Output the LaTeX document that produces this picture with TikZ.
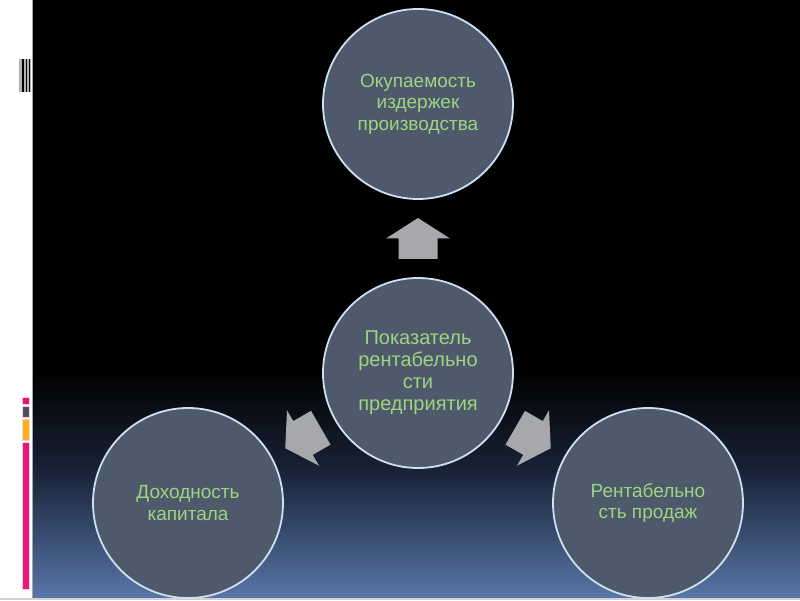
\documentclass[tikz,border=0pt]{standalone}
\usepackage{fontspec}
\setmainfont{Liberation Sans}
\usetikzlibrary{positioning,calc}
\definecolor{slidefill}{RGB}{78,90,107}
\definecolor{ringline}{RGB}{205,225,242}
\definecolor{labelgreen}{RGB}{158,212,128}
\definecolor{arrowgray}{RGB}{166,168,171}
\definecolor{navymid}{RGB}{24,34,54}
\definecolor{navylow}{RGB}{88,118,168}
\definecolor{barpink}{RGB}{228,22,122}
\definecolor{barslate}{RGB}{72,82,100}
\definecolor{barorange}{RGB}{252,180,20}
\tikzstyle{ring}=[circle,draw=ringline,line width=1.8pt,fill=slidefill,text=labelgreen,align=center,minimum size=190pt,inner sep=0pt,font=\fontsize{19}{21.5}\selectfont]
\tikzstyle{blk}=[fill=arrowgray]
\tikzstyle{tab}=[draw=white!80!barpink,line width=0.6pt]
% block arrow: centre, angle
\newcommand{\radarrow}[2]{\fill[blk,shift={(#1)},rotate=#2] (20.5,0) -- (0,32) -- (0,19.5) -- (-20.5,19.5) -- (-20.5,-19.5) -- (0,-19.5) -- (0,-32) -- cycle;}

\begin{document}
\begin{tikzpicture}[x=1pt,y=1pt]
\useasboundingbox (0,0) rectangle (800,600);
% slide background
\fill[white] (0,0) rectangle (800,600);
\fill[black] (33,230) rectangle (800,600);
\shade[top color=black,bottom color=navymid] (33,130) rectangle (800,230.5);
\shade[top color=navymid,bottom color=navylow] (33,2) rectangle (800,130.5);
\draw[gray!70,line width=1pt] (32.5,2) -- (32.5,600);
\draw[gray!35,line width=2pt] (0,1) -- (800,1);
% left decorations
\fill[gray!60] (19,508) rectangle (31,541);
\foreach \xs in {22,25.5,28.5} \fill[black] (\xs,508) rectangle (\xs+1.5,541);
\fill[barpink,tab] (22,196) rectangle (29,203);
\fill[barslate,tab] (22,183) rectangle (29,194);
\fill[barorange,tab] (22,160) rectangle (29,181);
\fill[barpink,tab] (22,11) rectangle (29,158);
% circles
\node (hub) [ring,font=\fontsize{20}{22}\selectfont] at (418,227) {Показатель\\рентабельно\\сти\\предприятия};
\node (cost) [ring] at (418,496) {Окупаемость\\издержек\\производства};
\node (capital) [ring] at (188,97) {Доходность\\капитала};
\node (sales) [ring] at (648,97) {Рентабельно\\сть продаж};
% arrows
\coordinate (up) at ($(hub)!0.5!(cost)$);
\coordinate (lt) at ($(hub)!0.5!(capital)$);
\coordinate (rt) at ($(hub)!0.5!(sales)$);
\radarrow{up}{90}
\radarrow{lt}{210}
\radarrow{rt}{-30}
\end{tikzpicture}
\end{document}
